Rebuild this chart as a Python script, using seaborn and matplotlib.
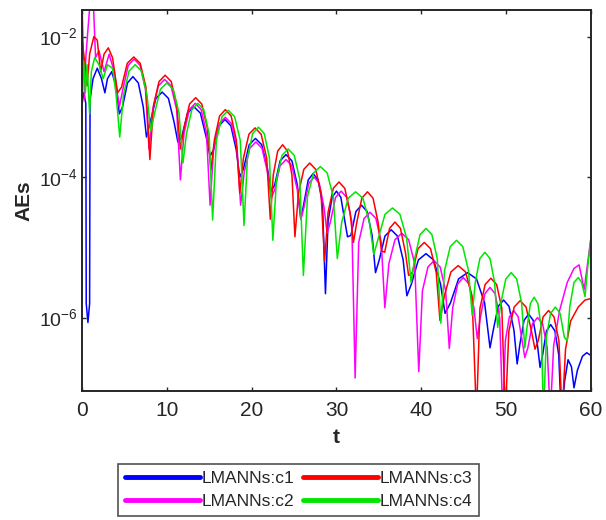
import numpy as np
import pandas as pd
import matplotlib
matplotlib.use("Agg")
import matplotlib.pyplot as plt
import seaborn as sns

# ---- data: time points and log10 of the absolute errors for each case ----
t_c1 = [0, 0.2, 0.45, 0.5, 0.7, 0.9, 0.95, 1.3, 1.8, 2.3, 2.7, 3.0, 3.5, 4.0, 4.4,
        4.78, 5.36, 6.0, 6.64, 7.22, 7.6,
        8.04, 8.71, 9.45, 10.19, 10.86, 11.3,
        11.76, 12.44, 13.2, 13.96, 14.64, 15.1,
        15.52, 16.15, 16.85, 17.55, 18.18, 18.6,
        19.04, 19.71, 20.45, 21.19, 21.86, 22.3,
        22.72, 23.35, 24.05, 24.75, 25.38, 25.8,
        26.15, 26.67, 27.25, 27.83, 28.35, 28.7,
        29.01, 29.48, 30.0, 30.52, 30.99, 31.3,
        31.7, 32.29, 32.95, 33.61, 34.2, 34.6,
        35.04, 35.71, 36.45, 37.19, 37.86, 38.3,
        38.84, 39.65, 40.55, 41.45, 42.26, 42.8,
        43.44, 44.39, 45.45, 46.51, 47.46, 48.1,
        48.48, 49.06, 49.7, 50.34, 50.92, 51.3,
        51.62, 52.11, 52.65, 53.19, 53.68, 54.0,
        54.3, 54.75, 55.25, 55.75, 56.2, 56.5,
        56.9, 57.3, 57.7, 58.0, 58.4, 59.0, 59.5, 60.0]
log_ae_c1 = [-2.97, -2.8, -2.95, -5.8, -6.07, -5.8, -2.9, -2.6, -2.45, -2.6, -2.8, -2.6, -2.5, -2.7, -3.1,
             -3.0, -2.66, -2.57, -2.66, -3.0, -3.43,
             -3.22, -2.88, -2.79, -2.88, -3.22, -3.5,
             -3.43, -3.09, -3.0, -3.09, -3.43, -3.7,
             -3.61, -3.27, -3.18, -3.27, -3.61, -4.0,
             -3.88, -3.54, -3.45, -3.54, -3.88, -4.2,
             -4.11, -3.77, -3.68, -3.77, -4.11, -4.6,
             -4.38, -4.04, -3.95, -4.04, -4.38, -5.66,
             -4.63, -4.29, -4.2, -4.29, -4.63, -4.85,
             -4.83, -4.49, -4.4, -4.49, -4.83, -5.36,
             -5.18, -4.84, -4.75, -4.84, -5.18, -5.69,
             -5.52, -5.18, -5.09, -5.18, -5.52, -5.94,
             -5.79, -5.45, -5.36, -5.45, -5.79, -6.43,
             -6.18, -5.84, -5.75, -5.84, -6.18, -6.66,
             -6.38, -6.04, -5.95, -6.04, -6.38, -6.71,
             -6.53, -6.19, -6.1, -6.19, -6.53, -7.4,
             -6.9, -6.6, -6.7, -7.0, -6.75, -6.55, -6.5, -6.54]

t_c2 = [0, 0.15, 0.3, 0.45, 0.7, 1.0, 1.3, 1.6, 2.0, 2.6, 3.2, 3.8, 4.4,
        4.82, 5.45, 6.15, 6.85, 7.48, 7.9,
        8.34, 9.01, 9.75, 10.49, 11.16, 11.6,
        12.02, 12.65, 13.35, 14.05, 14.68, 15.1,
        15.53, 16.18, 16.9, 17.62, 18.27, 18.7,
        19.13, 19.78, 20.5, 21.22, 21.87, 22.3,
        22.72, 23.35, 24.05, 24.75, 25.38, 25.8,
        26.17, 26.73, 27.35, 27.97, 28.53, 28.9,
        29.3, 29.89, 30.55, 31.21, 31.8, 32.2,
        32.62, 33.25, 33.95, 34.65, 35.28, 35.7,
        36.18, 36.9, 37.7, 38.5, 39.22, 39.7,
        40.13, 40.78, 41.5, 42.22, 42.87, 43.3,
        43.7, 44.29, 44.95, 45.61, 46.2, 46.6,
        46.96, 47.5, 48.1, 48.7, 49.24, 49.6,
        49.91, 50.38, 50.9, 51.42, 51.89, 52.2,
        52.56, 53.1, 53.7, 54.3, 54.84, 55.2,
        55.6, 56.3, 57.2, 58.0, 58.6, 59.2, 60.0]
log_ae_c2 = [-1.5, -2.2, -2.9, -2.3, -1.9, -1.45, -1.4, -2.3, -2.2, -2.5, -2.25, -2.5, -3.0,
             -2.75, -2.41, -2.32, -2.41, -2.75, -3.6,
             -3.04, -2.7, -2.61, -2.7, -3.04, -4.04,
             -3.38, -3.04, -2.95, -3.04, -3.38, -4.4,
             -3.58, -3.24, -3.15, -3.24, -3.58, -4.4,
             -3.93, -3.59, -3.5, -3.59, -3.93, -4.3,
             -4.18, -3.84, -3.75, -3.84, -4.18, -4.6,
             -4.43, -4.09, -4.0, -4.09, -4.43, -4.8,
             -4.63, -4.29, -4.2, -4.29, -4.63, -6.86,
             -4.93, -4.59, -4.5, -4.59, -4.93, -5.86,
             -5.23, -4.89, -4.8, -4.89, -5.23, -6.77,
             -5.62, -5.28, -5.19, -5.28, -5.62, -6.44,
             -5.86, -5.52, -5.43, -5.52, -5.86, -6.3,
             -6.0, -5.66, -5.57, -5.66, -6.0, -7.4,
             -6.33, -5.99, -5.9, -5.99, -6.33, -6.57,
             -6.43, -6.09, -6.0, -6.09, -6.43, -7.4,
             -6.4, -5.9, -5.5, -5.3, -5.25, -5.6, -4.86]

t_c3 = [0, 0.3, 0.6, 0.9, 1.4, 1.8, 2.2, 2.6, 3.1, 3.6, 4.2,
        4.66, 5.34, 6.1, 6.86, 7.54, 8.0,
        8.43, 9.08, 9.8, 10.52, 11.17, 11.6,
        12.03, 12.68, 13.4, 14.12, 14.77, 15.2,
        15.61, 16.22, 16.9, 17.58, 18.19, 18.6,
        19.03, 19.68, 20.4, 21.12, 21.77, 22.2,
        22.55, 23.07, 23.65, 24.23, 24.75, 25.1,
        25.52, 26.15, 26.85, 27.55, 28.18, 28.6,
        29.01, 29.62, 30.3, 30.98, 31.59, 32.0,
        32.4, 32.99, 33.65, 34.31, 34.9, 35.3,
        35.68, 36.26, 36.9, 37.54, 38.12, 38.5,
        38.94, 39.61, 40.35, 41.09, 41.76, 42.2,
        42.72, 43.49, 44.35, 45.21, 45.98, 46.5,
        46.91, 47.52, 48.2, 48.88, 49.49, 49.9,
        50.32, 50.95, 51.65, 52.35, 52.98, 53.4,
        53.78, 54.36, 55.0, 55.64, 56.22, 56.6,
        57.0, 57.6, 58.5, 59.3, 60.0]
log_ae_c3 = [-2.02, -2.35, -2.7, -2.25, -2.0, -2.05, -2.5, -2.25, -2.16, -2.3, -2.8,
             -2.72, -2.38, -2.29, -2.38, -2.72, -3.75,
             -2.98, -2.64, -2.55, -2.64, -2.98, -3.6,
             -3.3, -2.96, -2.87, -2.96, -3.3, -3.9,
             -3.47, -3.13, -3.04, -3.13, -3.47, -4.23,
             -3.73, -3.39, -3.3, -3.39, -3.73, -4.6,
             -3.97, -3.63, -3.54, -3.63, -3.97, -4.85,
             -4.23, -3.89, -3.8, -3.89, -4.23, -5.2,
             -4.5, -4.16, -4.07, -4.16, -4.5, -4.93,
             -4.64, -4.3, -4.21, -4.3, -4.64, -5.05,
             -5.07, -4.73, -4.64, -4.73, -5.07, -5.4,
             -5.36, -5.02, -4.93, -5.02, -5.36, -6.04,
             -5.69, -5.35, -5.26, -5.35, -5.69, -7.4,
             -5.87, -5.53, -5.44, -5.53, -5.87, -7.4,
             -6.19, -5.85, -5.76, -5.85, -6.19, -6.45,
             -6.33, -5.99, -5.9, -5.99, -6.33, -7.4,
             -6.45, -6.05, -5.85, -5.75, -5.73]

t_c4 = [0, 0.2, 0.4, 0.6, 0.9, 1.1, 1.5, 2.0, 2.5, 3.0, 3.6, 4.0, 4.45,
        4.89, 5.55, 6.28, 7.0, 7.66, 8.1,
        8.56, 9.24, 10.0, 10.76, 11.44, 11.9,
        12.32, 12.95, 13.65, 14.35, 14.98, 15.4,
        15.84, 16.51, 17.25, 17.99, 18.66, 19.1,
        19.51, 20.12, 20.8, 21.48, 22.09, 22.5,
        22.93, 23.58, 24.3, 25.02, 25.67, 26.1,
        26.58, 27.3, 28.1, 28.9, 29.62, 30.1,
        30.62, 31.39, 32.25, 33.11, 33.88, 34.4,
        34.93, 35.72, 36.6, 37.48, 38.27, 38.8,
        39.22, 39.85, 40.55, 41.25, 41.88, 42.3,
        42.74, 43.41, 44.15, 44.89, 45.56, 46.0,
        46.36, 46.9, 47.5, 48.1, 48.64, 49.0,
        49.38, 49.96, 50.6, 51.24, 51.82, 52.2,
        52.46, 52.86, 53.3, 53.74, 54.14, 54.4,
        54.74, 55.24, 55.8, 56.36, 56.86, 57.2,
        57.5, 58.0, 58.5, 58.9, 59.3, 59.6, 60.0]
log_ae_c4 = [-2.69, -2.35, -2.8, -2.4, -3.1, -2.5, -2.3, -2.4, -2.6, -2.4, -2.45, -2.8, -3.43,
             -2.83, -2.49, -2.4, -2.49, -2.83, -3.35,
             -3.09, -2.75, -2.66, -2.75, -3.09, -3.8,
             -3.38, -3.04, -2.95, -3.04, -3.38, -4.61,
             -3.48, -3.14, -3.05, -3.14, -3.48, -4.69,
             -3.72, -3.38, -3.29, -3.38, -3.72, -4.9,
             -4.03, -3.69, -3.6, -3.69, -4.03, -5.4,
             -4.28, -3.94, -3.85, -3.94, -4.28, -5.16,
             -4.64, -4.3, -4.21, -4.3, -4.64, -5.1,
             -4.87, -4.53, -4.44, -4.53, -4.87, -5.5,
             -5.16, -4.82, -4.73, -4.82, -5.16, -6.08,
             -5.33, -4.99, -4.9, -4.99, -5.33, -5.97,
             -5.5, -5.16, -5.07, -5.16, -5.5, -6.14,
             -5.79, -5.45, -5.36, -5.45, -5.79, -6.43,
             -6.14, -5.8, -5.71, -5.8, -6.14, -7.4,
             -6.28, -5.94, -5.85, -5.94, -6.28, -6.33,
             -5.85, -5.5, -5.43, -5.5, -5.7, -5.3, -4.87]

case_labels = ["LMANNs:c1", "LMANNs:c2", "LMANNs:c3", "LMANNs:c4"]
case_colors = ["#0000ff", "#ff00ff", "#ff0000", "#00e600"]
x_ticks = [0, 10, 20, 30, 40, 50, 60]
y_ticks = [1e-6, 1e-4, 1e-2]
y_tick_labels = [r"$10^{-6}$", r"$10^{-4}$", r"$10^{-2}$"]

series = [(t_c1, log_ae_c1), (t_c2, log_ae_c2), (t_c3, log_ae_c3), (t_c4, log_ae_c4)]
frames = []
for (tt, la), lab in zip(series, case_labels):
    frames.append(pd.DataFrame({"t": tt, "AE": 10.0 ** np.asarray(la), "case": lab}))
df = pd.concat(frames, ignore_index=True)

# ---- styling ----
sns.set_style("ticks")
plt.rcParams["font.family"] = ["Liberation Sans", "DejaVu Sans"]
plt.rcParams["mathtext.fontset"] = "custom"
plt.rcParams["mathtext.rm"] = "Liberation Sans"
plt.rcParams["mathtext.it"] = "Liberation Sans:italic"
plt.rcParams["mathtext.bf"] = "Liberation Sans:bold"
text_col = "#262626"

fig = plt.figure(figsize=(6.06, 5.20), dpi=100)
ax = fig.add_axes([0.1353, 0.248, 0.8399, 0.733])

for lab, col in zip(case_labels, case_colors):
    sub = df[df["case"] == lab]
    sns.lineplot(data=sub, x="t", y="AE", color=col, linewidth=1.1,
                 estimator=None, sort=False, label=lab, ax=ax, legend=False)

ax.set_yscale("log")
ax.set_xlim(0, 60)
ax.set_ylim(9e-8, 2.4e-2)
ax.set_xticks(x_ticks)
ax.set_xticklabels([str(v) for v in x_ticks])
ax.set_yticks(y_ticks)
ax.set_yticklabels(y_tick_labels)
ax.yaxis.set_minor_locator(matplotlib.ticker.NullLocator())
ax.tick_params(axis="both", which="major", direction="in", length=3, width=1,
               top=True, right=True, colors=text_col, labelcolor=text_col)
ax.tick_params(axis="x", labelsize=15, pad=7)
ax.tick_params(axis="y", labelsize=14, pad=3)
for sp in ax.spines.values():
    sp.set_linewidth(1.4)
    sp.set_color(text_col)

ax.set_xlabel("t", fontsize=15, fontweight="bold", color=text_col, labelpad=6)
ax.set_ylabel("AEs", fontsize=15, fontweight="bold", color=text_col, labelpad=4)

handles = [matplotlib.lines.Line2D([], [], color=c, linewidth=3.5) for c in case_colors]
leg = fig.legend(handles, case_labels, loc="center", bbox_to_anchor=(0.493, 0.058),
                 ncol=2, fontsize=12.5, frameon=True, fancybox=False,
                 edgecolor="#262626", handlelength=4.3, handletextpad=0.1,
                 columnspacing=0.5, borderpad=0.4, labelspacing=0.45,
                 borderaxespad=0)
leg.get_frame().set_linewidth(1.2)
for txt in leg.get_texts():
    txt.set_color(text_col)

fig.savefig("out.png", dpi=100)
